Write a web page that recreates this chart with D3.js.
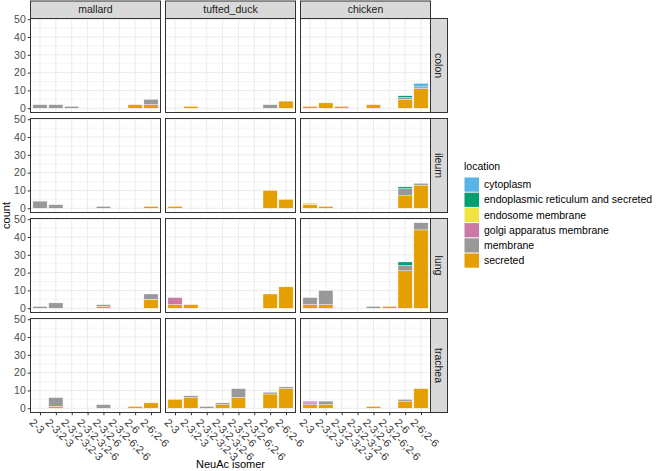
<!DOCTYPE html>
<html><head><meta charset="utf-8">
<script src="https://cdn.jsdelivr.net/npm/d3@7"></script>
<style>
body{margin:0;background:#fff;}
svg{display:block;font-family:"Liberation Sans",Arial,sans-serif;}
</style></head>
<body><svg id="chart" width="658" height="471"></svg>
<script>
// ---------- data ----------
const categories = ["2-3","2-3;2-3","2-3;2-3;2-3","2-3;2-3;2-6","2-3;2-6","2-3;2-6;2-6","2-6","2-6;2-6"];
const species = ["mallard","tufted_duck","chicken"];
const tissues = ["colon","ileum","lung","trachea"];
const locations = ["cytoplasm","endoplasmic reticulum and secreted","endosome membrane","golgi apparatus membrane","membrane","secreted"];
const locationColors = ["#56B4E9","#009E73","#F0E442","#CC79A7","#999999","#E69F00"];
const yTicks = [0,10,20,30,40,50];

// counts per panel (rows: tissue x species in order), columns follow categories
const panelKeys = [
  "colon|mallard","colon|tufted_duck","colon|chicken",
  "ileum|mallard","ileum|tufted_duck","ileum|chicken",
  "lung|mallard","lung|tufted_duck","lung|chicken",
  "trachea|mallard","trachea|tufted_duck","trachea|chicken"];
const secreted = [
  [0,0,0,0,0,0,2,2],[0,1,0,0,0,0,0,4],[1,3,1,0,2,0,5,11],
  [0,0,0,0,0,0,0,1],[1,0,0,0,0,0,10,5],[2,1,0,0,0,0,7,13],
  [0,0,0,0,1,0,0,5],[2,2,0,0,0,0,8,12],[2,2,0,0,0,1,21,44],
  [0,1,0,0,0,0,1,3],[5,6,0,2,6,0,8,11],[2,2,0,0,1,0,4,11]];
const membrane = [
  [2,2,1,0,0,0,0,3],[0,0,0,0,0,0,2,0],[0,0,0,0,0,0,1,1],
  [4,2,0,0,1,0,0,0],[0,0,0,0,0,0,0,0],[0,0,0,0,0,0,4,1],
  [1,3,0,0,1,0,0,3],[0,0,0,0,0,0,0,0],[4,8,0,0,1,0,3,4],
  [0,5,0,0,2,0,0,0],[0,1,1,1,5,0,1,1],[1,2,0,0,0,0,1,0]];
const golgi = [
  [0,0,0,0,0,0,0,0],[0,0,0,0,0,0,0,0],[0,0,0,0,0,0,0,0],
  [0,0,0,0,0,0,0,0],[0,0,0,0,0,0,0,0],[0,0,0,0,0,0,0,0],
  [0,0,0,0,0,0,0,0],[4,0,0,0,0,0,0,0],[0,0,0,0,0,0,0,0],
  [0,0,0,0,0,0,0,0],[0,0,0,0,0,0,0,0],[1,0,0,0,0,0,0,0]];
const endosome = [
  [0,0,0,0,0,0,0,0],[0,0,0,0,0,0,0,0],[0,0,0,0,0,0,0,0],
  [0,0,0,0,0,0,0,0],[0,0,0,0,0,0,0,0],[1,0,0,0,0,0,0,0],
  [0,0,0,0,0,0,0,0],[0,0,0,0,0,0,0,0],[0,0,0,0,0,0,0,0],
  [0,0,0,0,0,0,0,0],[0,0,0,0,0,0,0,0],[0,0,0,0,0,0,0,0]];
const erSecreted = [
  [0,0,0,0,0,0,0,0],[0,0,0,0,0,0,0,0],[0,0,0,0,0,0,1,0],
  [0,0,0,0,0,0,0,0],[0,0,0,0,0,0,0,0],[0,0,0,0,0,0,1,0],
  [0,0,0,0,0,0,0,0],[0,0,0,0,0,0,0,0],[0,0,0,0,0,0,2,0],
  [0,0,0,0,0,0,0,0],[0,0,0,0,0,0,0,0],[0,0,0,0,0,0,0,0]];
const cytoplasm = [
  [0,0,0,0,0,0,0,0],[0,0,0,0,0,0,0,0],[0,0,0,0,0,0,0,2],
  [0,0,0,0,0,0,0,0],[0,0,0,0,0,0,0,0],[0,0,0,0,0,0,0,0],
  [0,0,0,0,0,0,0,0],[0,0,0,0,0,0,0,0],[0,0,0,0,0,0,0,0],
  [0,0,0,0,0,0,0,0],[0,0,0,0,0,0,0,0],[0,0,0,0,0,0,0,0]];
const seriesByLocation = [cytoplasm, erSecreted, endosome, golgi, membrane, secreted];

// ---------- layout ----------
const svg = d3.select("#chart");
const colX = [30.5, 165.5, 300.5];
const panelW = 130;
const rowY = [18.5, 118.5, 218.5, 318.5];
const panelH = 94;
const stripH = 17.5;
const stripW = 17;
const grid = "#EBEBEB", border = "#333333";

const color = d3.scaleOrdinal().domain(locations).range(locationColors);

// stacking order: last location at bottom (ggplot default)
const stackOrder = locations.slice().reverse();

tissues.forEach((tissue, ri) => {
  species.forEach((sp, ci) => {
    const pi = panelKeys.indexOf(tissue + "|" + sp);
    const x0 = colX[ci], y0 = rowY[ri];
    const x = d3.scalePoint().domain(categories).range([x0, x0 + panelW]).padding(0.6);
    const step = x.step();
    const y = d3.scaleLinear().domain([-2.4, 50.4]).range([y0 + panelH, y0]);
    const g = svg.append("g");
    g.append("rect").attr("x", x0).attr("y", y0).attr("width", panelW).attr("height", panelH).attr("fill", "#fff");
    // minor grid
    [5,15,25,35,45].forEach(v => g.append("line").attr("x1", x0).attr("x2", x0 + panelW)
      .attr("y1", y(v)).attr("y2", y(v)).attr("stroke", grid).attr("stroke-width", 0.5));
    yTicks.forEach(v => g.append("line").attr("x1", x0).attr("x2", x0 + panelW)
      .attr("y1", y(v)).attr("y2", y(v)).attr("stroke", grid).attr("stroke-width", 1));
    categories.forEach(c => g.append("line").attr("x1", x(c)).attr("x2", x(c))
      .attr("y1", y0).attr("y2", y0 + panelH).attr("stroke", grid).attr("stroke-width", 1));
    // bars
    categories.forEach((c, k) => {
      let cum = 0;
      stackOrder.forEach(loc => {
        const li = locations.indexOf(loc);
        const v = seriesByLocation[li][pi][k];
        if (v > 0) {
          g.append("rect")
            .attr("x", x(c) - step * 0.45).attr("width", step * 0.9)
            .attr("y", y(cum + v)).attr("height", y(cum) - y(cum + v))
            .attr("fill", color(loc)).attr("stroke", "#fff").attr("stroke-width", 0.4);
          cum += v;
        }
      });
    });
    g.append("rect").attr("x", x0).attr("y", y0).attr("width", panelW).attr("height", panelH)
      .attr("fill", "none").attr("stroke", border).attr("stroke-width", 1);

    // y axis
    if (ci === 0) {
      const ax = svg.append("g").attr("transform", `translate(${x0},0)`)
        .call(d3.axisLeft(y).tickValues(yTicks).tickSize(2.75).tickPadding(2));
      ax.select(".domain").remove();
      ax.selectAll("line").attr("stroke", border);
      ax.selectAll("text").attr("fill", "#4D4D4D").attr("font-size", 10.5).attr("font-family", "Liberation Sans, Arial, sans-serif");
    }
    // x axis
    if (ri === tissues.length - 1) {
      const ax = svg.append("g").attr("transform", `translate(0,${y0 + panelH})`)
        .call(d3.axisBottom(x).tickSize(2.75).tickPadding(2));
      ax.select(".domain").remove();
      ax.selectAll("line").attr("stroke", border);
      ax.selectAll("text")
        .attr("fill", "#3A3A3A").attr("font-size", 11).attr("font-family", "Liberation Sans, Arial, sans-serif")
        .attr("text-anchor", "start").attr("dy", null).attr("y", 0)
        .attr("transform", "translate(-6,5) rotate(45)")
        .attr("dominant-baseline", "hanging");
    }
    // top strip
    if (ri === 0) {
      svg.append("rect").attr("x", x0).attr("y", y0 - stripH).attr("width", panelW).attr("height", stripH)
        .attr("fill", "#D9D9D9").attr("stroke", border).attr("stroke-width", 1);
      svg.append("text").attr("x", x0 + panelW / 2).attr("y", y0 - stripH / 2).attr("dy", "0.35em")
        .attr("text-anchor", "middle").attr("font-size", 10.5).attr("fill", "#1A1A1A").text(sp);
    }
    // right strip
    if (ci === species.length - 1) {
      const sx = x0 + panelW;
      svg.append("rect").attr("x", sx).attr("y", y0).attr("width", stripW).attr("height", panelH)
        .attr("fill", "#D9D9D9").attr("stroke", border).attr("stroke-width", 1);
      svg.append("text").attr("transform", `translate(${sx + stripW / 2},${y0 + panelH / 2}) rotate(90)`)
        .attr("dy", "0.35em").attr("text-anchor", "middle").attr("font-size", 10.5).attr("fill", "#1A1A1A").text(tissue);
    }
  });
});

// axis titles
svg.append("text").attr("transform", `translate(10,${(rowY[0] + rowY[3] + panelH) / 2}) rotate(-90)`)
  .attr("text-anchor", "middle").attr("font-size", 11).attr("fill", "#000").text("count");
svg.append("text").attr("x", colX[0] + (colX[2] + panelW - colX[0]) / 2).attr("y", 468)
  .attr("text-anchor", "middle").attr("font-size", 11).attr("fill", "#000").text("NeuAc isomer");

// legend
const lg = svg.append("g").attr("transform", "translate(464,0)");
lg.append("text").attr("x", 0).attr("y", 170).attr("font-size", 10.5).attr("fill", "#000").text("location");
const keyH = 15.2, keyTop = 177;
locations.forEach((loc, i) => {
  lg.append("rect").attr("x", 0.5).attr("y", keyTop + i * keyH + 0.5).attr("width", 14.5).attr("height", keyH - 1)
    .attr("fill", color(loc));
  lg.append("text").attr("x", 20).attr("y", keyTop + i * keyH + keyH / 2).attr("dy", "0.35em")
    .attr("font-size", 10.5).attr("fill", "#000").text(loc);
});
</script></body></html>
